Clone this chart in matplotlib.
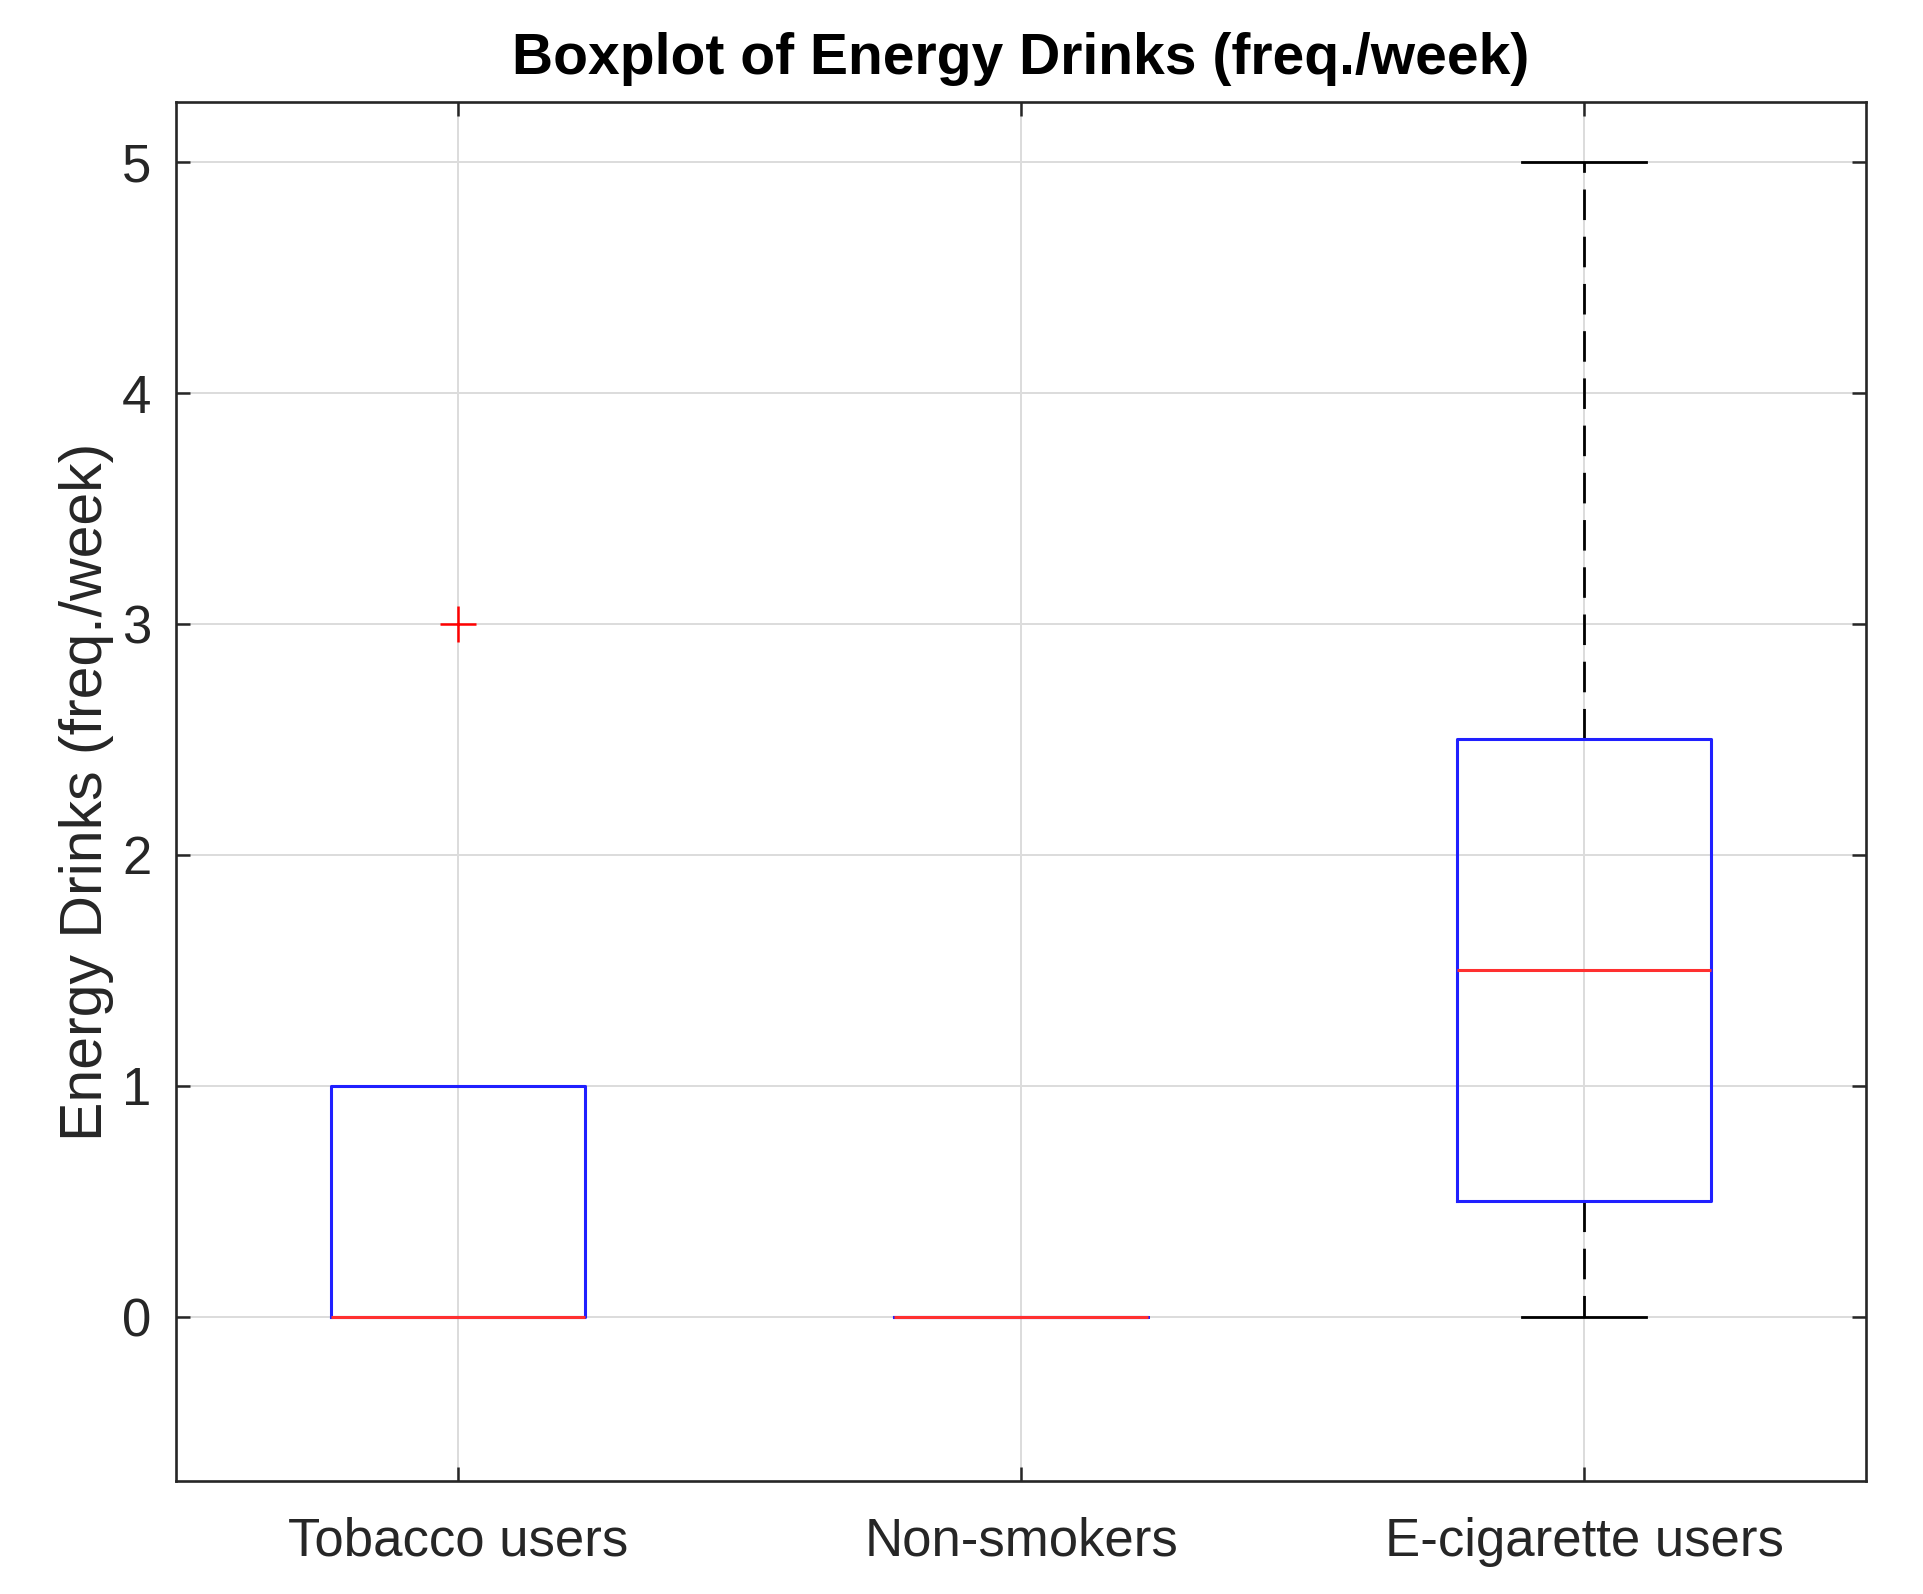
import matplotlib.pyplot as plt

# data
groups = ["Tobacco users", "Non-smokers", "E-cigarette users"]
q1 = [0, 0, 0.5]
medians = [0, 0, 1.5]
q3 = [1, 0, 2.5]
whisker_low = [0, 0, 0]
whisker_high = [1, 0, 5]
outliers = [[3], [], []]
y_ticks = [0, 1, 2, 3, 4, 5]

plt.rcParams['font.family'] = ['Liberation Sans', 'DejaVu Sans']

stats = []
for i, name in enumerate(groups):
    stats.append({
        'label': name,
        'q1': q1[i], 'med': medians[i], 'q3': q3[i],
        'whislo': whisker_low[i], 'whishi': whisker_high[i],
        'fliers': outliers[i],
    })

fig = plt.figure(figsize=(19.24, 15.94), dpi=100)
ax = fig.add_axes([0.0917, 0.071, 0.878, 0.865])

dark = '#262626'
ax.bxp(stats, positions=[1, 2, 3], widths=0.45, showfliers=True,
       boxprops=dict(color='#2020ff', linewidth=2.2, zorder=3),
       medianprops=dict(color='#ff3030', linewidth=2.2, zorder=4),
       whiskerprops=dict(color='black', linewidth=2.0, linestyle=(0, (11, 6)), zorder=2),
       capprops=dict(color='black', linewidth=2.0, zorder=2),
       capwidths=0.22,
       flierprops=dict(marker='+', markeredgecolor='red', markersize=26,
                       markeredgewidth=1.8, linestyle='none'))

ax.set_xlim(0.5, 3.5)
ax.set_ylim(-0.71, 5.26)
ax.set_yticks(y_ticks)
ax.set_xticks([1, 2, 3])
ax.set_xticklabels(groups)

ax.grid(True, color='#dcdcdc', linewidth=1.4)
ax.set_axisbelow(True)
ax.tick_params(direction='in', length=10, width=1.8, colors=dark,
               labelsize=38, top=True, right=True, pad=18)
ax.tick_params(axis='x', pad=26)
for s in ax.spines.values():
    s.set_color(dark)
    s.set_linewidth(1.9)

ax.set_ylabel("Energy Drinks (freq./week)", fontsize=42.5, color=dark, labelpad=6)
ax.set_title("Boxplot of Energy Drinks (freq./week)", fontsize=41,
             fontweight='bold', color='black', pad=20)

fig.savefig('out.png', dpi=100)
